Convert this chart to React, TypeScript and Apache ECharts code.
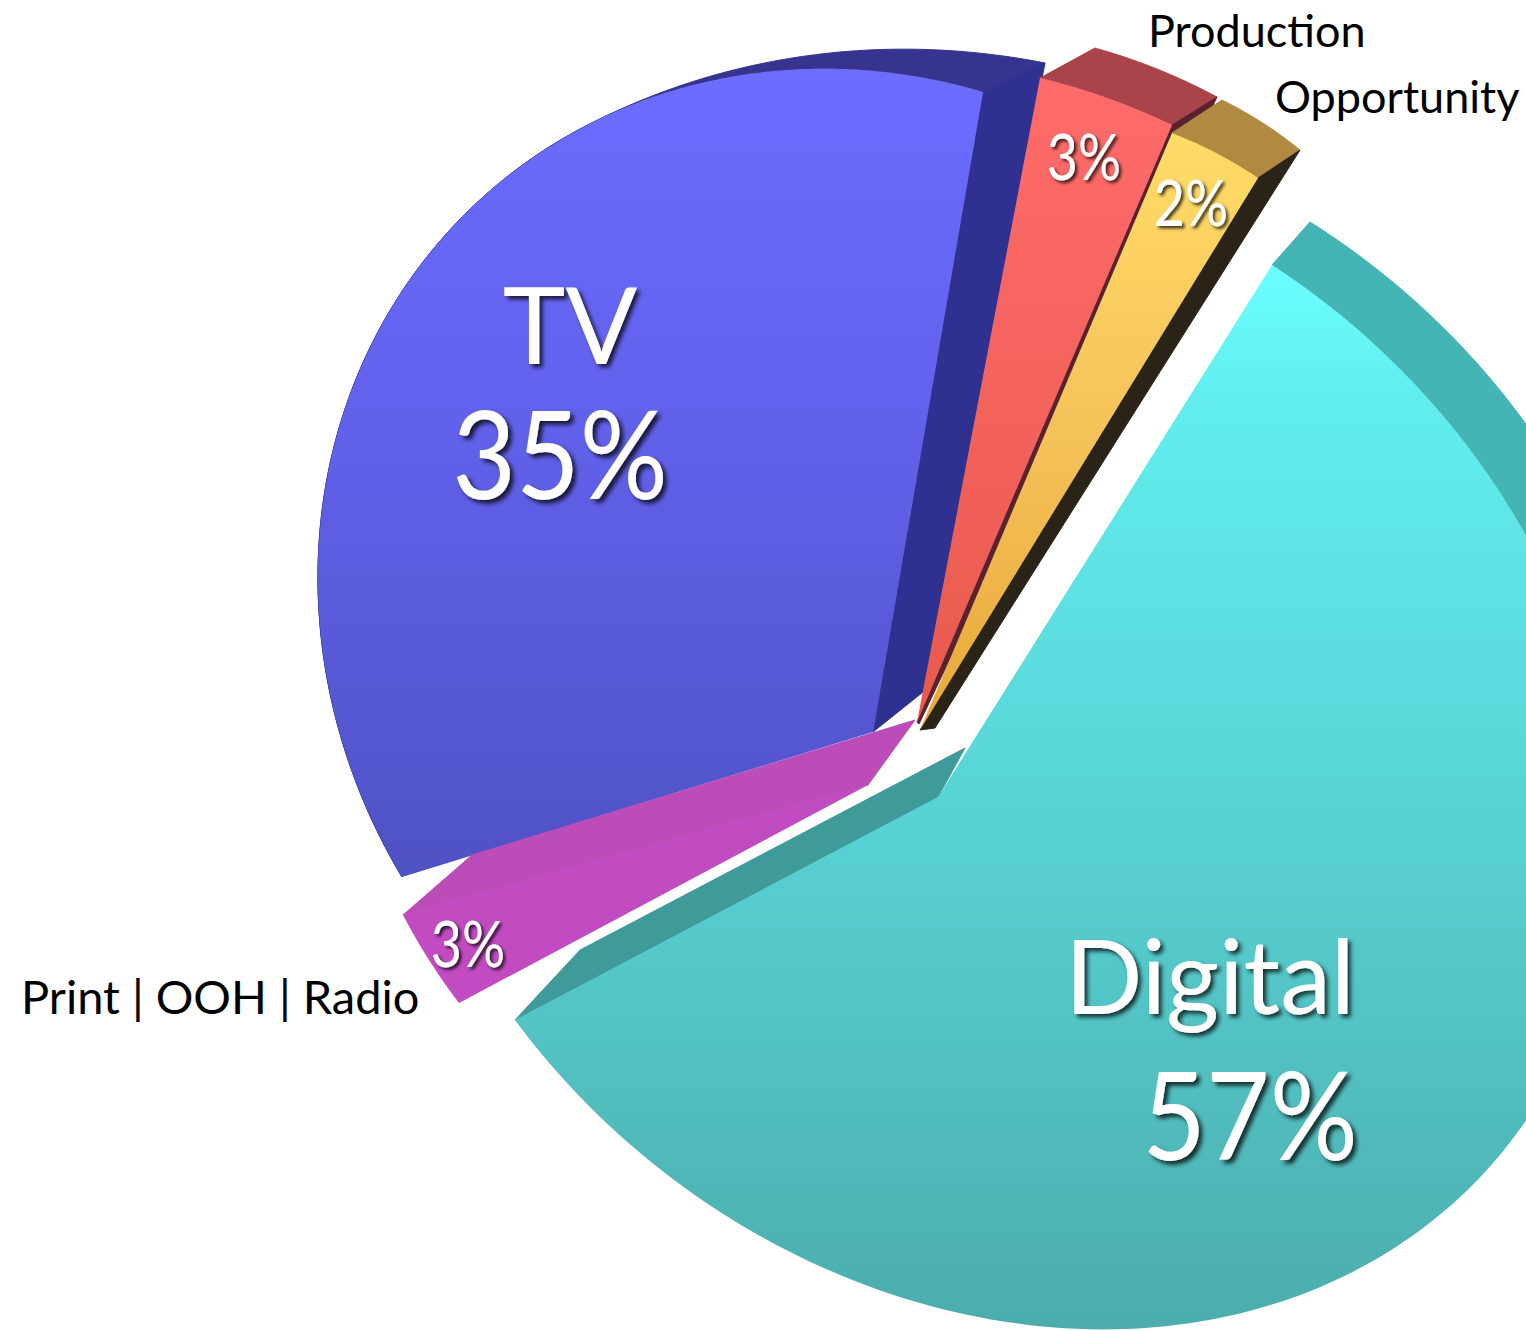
import React, { useEffect, useRef } from "react";
import * as echarts from "echarts";

const categories = ["Digital", "Print | OOH | Radio", "TV", "Production", "Opportunity"];
const shares = [57, 3, 35, 3, 2];
const firstAngle = 58;

const FONT = "Lato";
type P = [number, number];
const layouts: any[] = [
  { a: [938, 797], s: [1272, 265], m: [1517, 520], mf: 0.158, m2: [1449, 1207], mf2: 0.47, m3: [1089, 1330], e: [515, 1020], dA: [27, -49], dS: [38, -43], dE: [65, -70], t0: 0, rimT: 0.2, z: 10,
    face: [[0, "#6bffff"], [0.12, "#62eeee"], [0.5, "#58d4d6"], [1, "#4cacac"]], rim: "#45b4b4", startWall: null, endWall: "#3f9a9a" },
  { a: [868, 785], s: [459, 1003], m: [429, 960], mf: 0.5, e: [403, 915], dA: [47, -65], dS: [0, 0], dE: [69, -60], t0: 0, rimT: 1, z: 30,
    face: [[0, "#c04cc0"], [1, "#c24ac2"]], rim: null, startWall: null, endWall: "#bb4cb8" },
  { a: [873, 732], s: [402, 877], m: [318, 585], mf: 0.3, m2: [787, 70], mf2: 0.83, m3: [400, 294], e: [983, 92], dA: [50, -40], dS: [0, 0], dE: [62, -29], t0: 0.62, rimT: 1, z: 20,
    face: [[0, "#6c6cff"], [0.4, "#6262ee"], [1, "#4f52c4"]], rim: "#35358f", startWall: null, endWall: "#2f3190" },
  { a: [917, 722], s: [1040, 78], m: [1107, 98], mf: 0.5, e: [1172, 125], dA: [2, 2], dS: [55, -30], dE: [45, -28], t0: 0, rimT: 1, z: 24,
    face: [[0, "#ff6b6b"], [1, "#e85a4c"]], rim: "#a8444a", startWall: null, endWall: "#5a2230" },
  { a: [920, 730], s: [1172, 133], m: [1216, 153], mf: 0.5, e: [1258, 178], dA: [15, -2], dS: [50, -33], dE: [42, -28], t0: 0, rimT: 1, z: 26,
    face: [[0, "#ffdc66"], [0.5, "#f5c25a"], [1, "#e8a838"]], rim: "#b08a40", startWall: null, endWall: "#2a2418" },
];
const textMarks: any[] = [
  { i: 2, text: () => "TV", x: 570, y: 362, size: 106, sx: 1, align: "center", fill: "#fff" },
  { i: 2, text: () => shares[2] + "%", x: 560, y: 497, size: 122, sx: 0.9, align: "center", fill: "#fff" },
  { i: 0, text: () => "Digital", x: 1210, y: 1012, size: 102, sx: 1, align: "center", fill: "#fff" },
  { i: 0, text: () => shares[0] + "%", x: 1250, y: 1158, size: 122, sx: 0.9, align: "center", fill: "#fff" },
  { i: 3, text: () => shares[3] + "%", x: 1084, y: 179, size: 64, sx: 0.84, align: "center", fill: "#fff" },
  { i: 4, text: () => shares[4] + "%", x: 1191, y: 225, size: 64, sx: 0.84, align: "center", fill: "#fff" },
  { i: 1, text: () => shares[1] + "%", x: 468, y: 966, size: 64, sx: 0.84, align: "center", fill: "#fff" },
  { i: 3, text: () => categories[3], x: 1148, y: 47, size: 45, sx: 1, align: "left", fill: "#000" },
  { i: 4, text: () => categories[4], x: 1275, y: 113, size: 45, sx: 1, align: "left", fill: "#000" },
  { i: 1, text: () => categories[1], x: 21, y: 1013, size: 47, sx: 1, align: "left", fill: "#000" },
];

function solve(A: number[][], b: number[]) {
  const n = b.length;
  const M = A.map((r, i) => [...r, b[i]]);
  for (let c = 0; c < n; c++) {
    let p = c;
    for (let r = c + 1; r < n; r++) if (Math.abs(M[r][c]) > Math.abs(M[p][c])) p = r;
    [M[c], M[p]] = [M[p], M[c]];
    for (let r = 0; r < n; r++) {
      if (r === c) continue;
      const f = M[r][c] / M[c][c];
      for (let k = c; k <= n; k++) M[r][k] -= f * M[c][k];
    }
  }
  return M.map((r, i) => r[n] / r[i]);
}
function homography(src: P[], dst: P[]) {
  const A: number[][] = [];
  const b: number[] = [];
  src.forEach(([x, y], i) => {
    const [u, v] = dst[i];
    A.push([x, y, 1, 0, 0, 0, -u * x, -u * y]); b.push(u);
    A.push([0, 0, 0, x, y, 1, -v * x, -v * y]); b.push(v);
  });
  const h = solve(A, b);
  return (x: number, y: number): P => {
    const w = h[6] * x + h[7] * y + 1;
    return [(h[0] * x + h[1] * y + h[2]) / w, (h[3] * x + h[4] * y + h[5]) / w];
  };
}
const rad = (d: number) => (d * Math.PI) / 180;
const add = (p: P, d: P): P => [p[0] + d[0], p[1] + d[1]];
const grad = (stops: any[]) =>
  new echarts.graphic.LinearGradient(0, 0, 0, 1, stops.map(([offset, color]) => ({ offset, color })));

export default function App() {
  const ref = useRef<HTMLDivElement>(null);
  useEffect(() => {
    document.body.style.margin = "0";
    document.body.style.overflow = "hidden";
    const chart = echarts.init(ref.current!, undefined, { renderer: "svg" });
    const total = shares.reduce((a, b) => a + b, 0);
    chart.setOption({
      animation: false,
      backgroundColor: "#ffffff",
      series: [
        {
          type: "custom",
          coordinateSystem: "none",
          silent: true,
          data: shares.map((v, i) => ({ name: categories[i], value: [v, i] })),
          renderItem: (params: any, api: any) => {
            const i = params.dataIndex;
            const value = api.value(0);
            const L = layouts[i];
            const before = shares.slice(0, i).reduce((a, b) => a + b, 0);
            const a0 = firstAngle - (before / total) * 360;
            const sweep = (value / total) * 360;
            const pt = (d: number): P => [Math.cos(rad(d)), Math.sin(rad(d))];
            const makeH = (mf: number) =>
              homography(
                [pt(a0), pt(a0 - sweep * mf), pt(a0 - sweep * L.mf2), pt(a0 - sweep)],
                [L.s, L.m, L.m2, L.e]
              );
            let H: (x: number, y: number) => P;
            if (L.m2) {
              // Pick the rim parameter that also carries the arc through the third anchor.
              let best = L.mf;
              let bestD = Infinity;
              for (let mf = 0.02; mf < L.mf2 - 0.01; mf += 0.002) {
                const h = makeH(mf);
                let dMin = Infinity;
                for (let k = 0; k <= 200; k++) {
                  const c = pt(a0 - (sweep * k) / 200);
                  const q = h(c[0], c[1]);
                  dMin = Math.min(dMin, Math.hypot(q[0] - L.m3[0], q[1] - L.m3[1]));
                }
                if (dMin < bestD) { bestD = dMin; best = mf; }
              }
              H = makeH(best);
            } else {
              H = homography(
                [[0, 0], pt(a0), pt(a0 - sweep * L.mf), pt(a0 - sweep)],
                [L.a, L.s, L.m, L.e]
              );
            }
            const rim: P[] = [];
            const back: P[] = [];
            const N = 160;
            for (let k = 0; k <= N; k++) {
              const t = k / N;
              const d = a0 - sweep * t;
              const c = pt(d);
              const q = H(c[0], c[1]);
              rim.push(q);
              const f = Math.max(0, (t - L.t0) / (1 - L.t0));
              back.push([q[0] + L.dS[0] + (L.dE[0] - L.dS[0]) * f, q[1] + L.dS[1] + (L.dE[1] - L.dS[1]) * f]);
            }
            const children: any[] = [];
            const wall = (points: P[], fill: any, z2: number) =>
              children.push({ type: "polygon", shape: { points }, style: { fill, stroke: fill, lineWidth: 1 }, z2 });
            const A2 = add(L.a, L.dA);
            const cut = Math.round(L.rimT * N) + 1;
            if (L.rim) wall([...rim.slice(0, cut), ...back.slice(0, cut).reverse()], L.rim, L.z);
            if (L.startWall) wall([L.a, A2, back[0], rim[0]], L.startWall, L.z + 1);
            if (L.endWall) wall([L.a, A2, add(rim[N], L.dE), rim[N]], L.endWall, L.z + 1);
            children.push({ type: "polygon", shape: { points: [L.a, ...rim] }, style: { fill: grad(L.face), stroke: null }, z2: L.z + 2 });
            textMarks.filter((m) => m.i === i).forEach((m) => {
              const white = m.fill === "#fff";
              const k = m.size / 45;
              children.push({
                type: "text",
                z2: 100,
                scaleX: m.sx,
                originX: m.x,
                originY: m.y,
                style: {
                  text: m.text(),
                  x: m.x,
                  y: m.y + 0.13 * m.size,
                  fill: m.fill,
                  font: `${m.size}px ${FONT}`,
                  textAlign: m.align,
                  textVerticalAlign: "bottom",
                  ...(white
                    ? { textShadowColor: "rgba(0,0,0,0.75)", textShadowBlur: 2 + k, textShadowOffsetX: 1 + k, textShadowOffsetY: 1 + k }
                    : {}),
                },
              });
            });
            return { type: "group", children };
          },
        },
      ],
    });
    return () => chart.dispose();
  }, []);
  return <div ref={ref} style={{ position: "absolute", left: 0, top: 0, width: 1526, height: 1331 }} />;
}
